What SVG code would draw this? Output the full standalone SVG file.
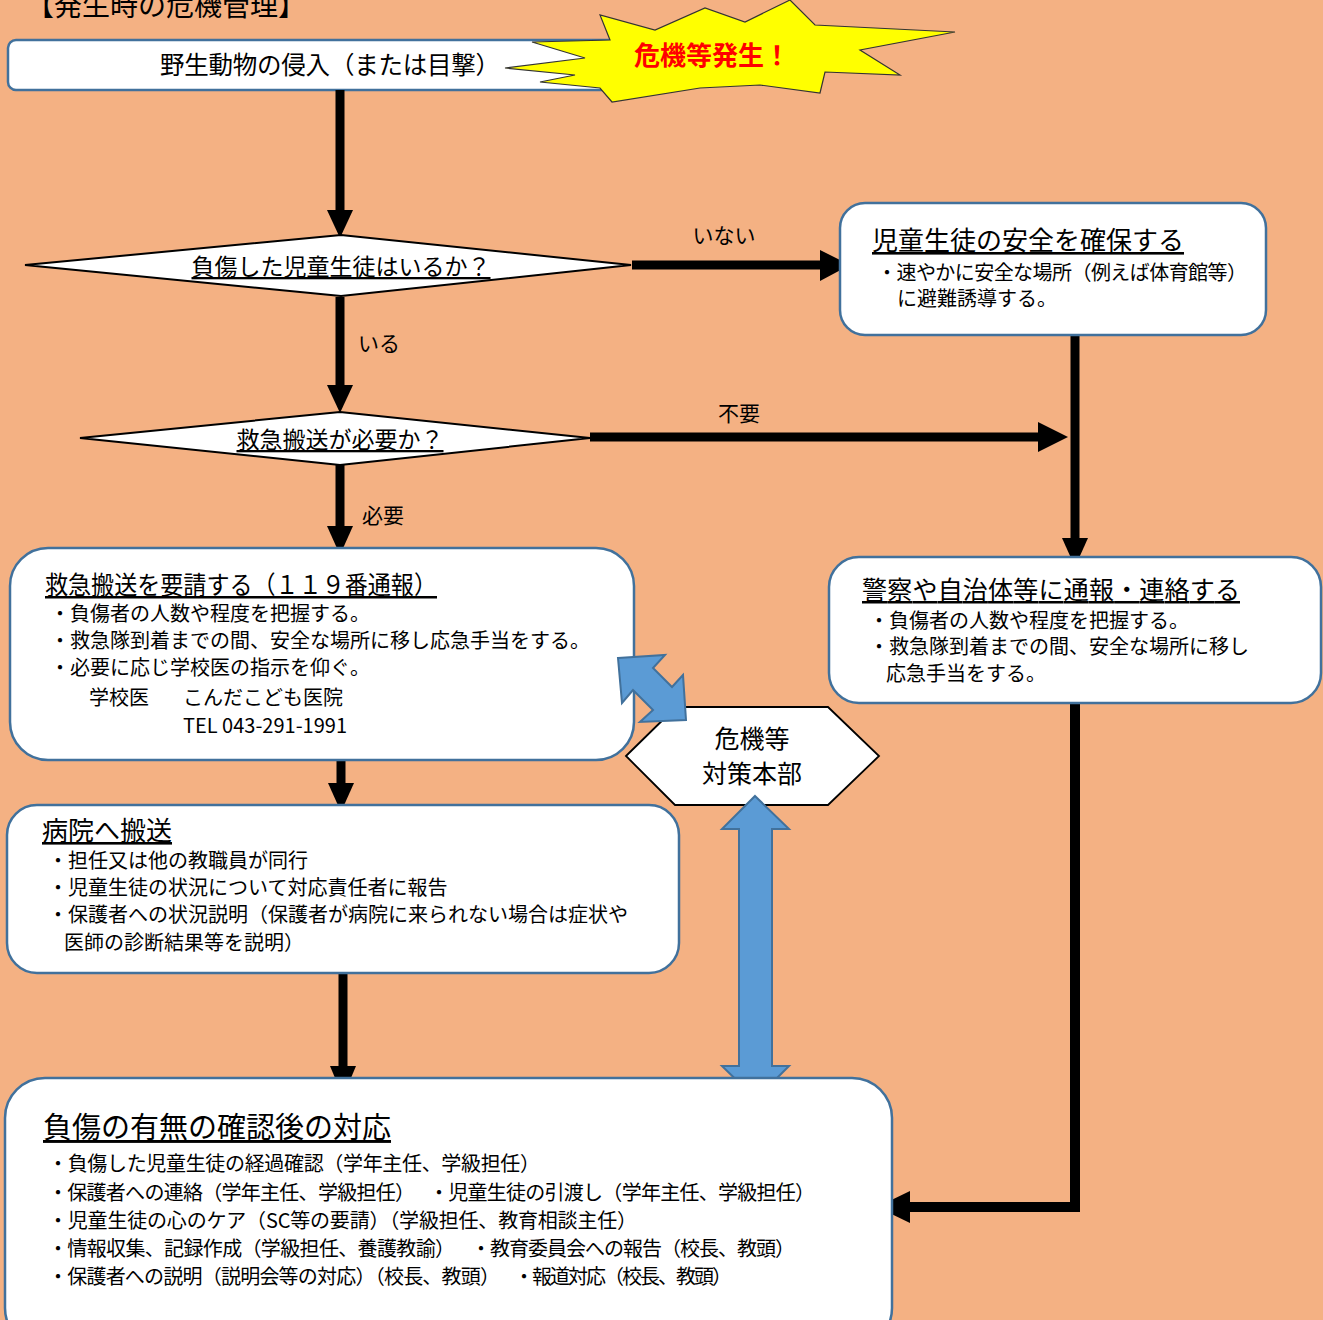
<svg xmlns="http://www.w3.org/2000/svg" width="1323" height="1320" viewBox="0 0 1323 1320">
<style>
text{font-family:"Noto Sans CJK JP","Noto Sans",sans-serif;fill:#000}
.box{fill:#fff;stroke:#41719C;stroke-width:2.5}
.dia{fill:#fff;stroke:#000;stroke-width:2}
.ln{fill:none;stroke:#000;stroke-width:9;stroke-linejoin:miter}
.hd{fill:#000}
.blue{fill:#5B9BD5;stroke:#41719C;stroke-width:2}
.t{font-size:25px;text-decoration:underline}
.b{font-size:20px}
.lb{font-size:21px}
</style>
<rect width="1323" height="1320" fill="#F4B183"/>
<text x="26" y="16" font-size="28">【発生時の危機管理】</text>

<g id="start">
<rect class="box" x="8" y="40" width="652" height="50" rx="8"/>
<text x="160" y="74" font-size="24.5" textLength="340">野生動物の侵入（または目撃）</text>
</g>

<g id="burst">
<polygon points="505,68 585,58 532,42 610,40 600,15 655,30 705,8 745,22 790,0 815,25 955,32 860,50 900,75 825,72 820,93 760,85 700,88 612,102 600,88 540,82 575,75" fill="#FFFF00" stroke="#333" stroke-width="1.2"/>
<text x="712" y="65" font-size="26" font-weight="bold" text-anchor="middle" style="fill:#FF0000">危機等発生！</text>
</g>

<g id="connectors">
<path class="ln" d="M340,90 V212"/>
<polygon class="hd" points="327,210 353,210 340,238"/>
<path class="ln" d="M632,265 H822"/>
<polygon class="hd" points="820,250 820,281 850,265"/>
<path class="ln" d="M340,297 V388"/>
<polygon class="hd" points="327,385 353,385 340,413"/>
<path class="ln" d="M590,437 H1040"/>
<polygon class="hd" points="1038,422 1038,452 1068,437"/>
<path class="ln" d="M1075,335 V540"/>
<polygon class="hd" points="1062,538 1088,538 1075,567"/>
<path class="ln" d="M340,465 V528"/>
<polygon class="hd" points="327,526 353,526 340,555"/>
<path class="ln" d="M341,760 V785"/>
<polygon class="hd" points="328,783 354,783 341,812"/>
<path class="ln" d="M343,973 V1068"/>
<polygon class="hd" points="330,1066 356,1066 343,1097"/>
<path class="ln" d="M1075,703 V1207 H908" style="stroke-width:10"/>
<polygon class="hd" points="910,1191 910,1223 877,1207"/>
<text class="lb" x="724" y="243" text-anchor="middle">いない</text>
<text class="lb" x="358" y="351">いる</text>
<text class="lb" x="718" y="421">不要</text>
<text class="lb" x="362" y="523">必要</text>
</g>

<g id="q1">
<polygon class="dia" points="25,265 341,235 631,265 341,296"/>
<text x="341" y="275" font-size="23" text-anchor="middle" text-decoration="underline">負傷した児童生徒はいるか？</text>
</g>

<g id="q2">
<polygon class="dia" points="80,438 340,412 590,438 340,465"/>
<text x="340" y="448" font-size="23" text-anchor="middle" text-decoration="underline">救急搬送が必要か？</text>
</g>

<g id="safety">
<rect class="box" x="840" y="203" width="426" height="132" rx="25"/>
<text class="t" x="872" y="250" style="font-size:26px">児童生徒の安全を確保する</text>
<text class="b" x="877" y="280" textLength="370">・速やかに安全な場所（例えば体育館等）</text>
<text class="b" x="897" y="306">に避難誘導する。</text>
</g>

<g id="ambulance">
<rect class="box" x="10" y="548" width="624" height="212" rx="38"/>
<text class="t" x="45" y="594" textLength="392" lengthAdjust="spacingAndGlyphs">救急搬送を要請する（１１９番通報）</text>
<text class="b" x="50" y="621">・負傷者の人数や程度を把握する。</text>
<text class="b" x="50" y="648">・救急隊到着までの間、安全な場所に移し応急手当をする。</text>
<text class="b" x="50" y="675">・必要に応じ学校医の指示を仰ぐ。</text>
<text class="b" x="89" y="705">学校医<tspan x="183">こんだこども医院</tspan></text>
<text class="b" x="183" y="733">TEL 043-291-1991</text>
</g>

<g id="police">
<rect class="box" x="829" y="557" width="492" height="146" rx="30"/>
<text class="t" x="862" y="599" textLength="378">警察や自治体等に通報・連絡する</text>
<text class="b" x="869" y="628">・負傷者の人数や程度を把握する。</text>
<text class="b" x="869" y="654">・救急隊到着までの間、安全な場所に移し</text>
<text class="b" x="886" y="681">応急手当をする。</text>
</g>

<g id="hq">
<polygon points="626,756 676,707 828,707 879,756 828,805 675,805" fill="#fff" stroke="#000" stroke-width="1.8"/>
<text x="752" y="748" font-size="25" text-anchor="middle">危機等</text>
<text x="752" y="783" font-size="25" text-anchor="middle">対策本部</text>
</g>

<g id="links">
<polygon class="blue" points="618,658 665,655 653,668 672,687 683,675 686,720 640,722 653,710 633,690 622,703"/>
<polygon class="blue" points="755,796 789,829 772,829 772,1066 789,1066 756,1099 722,1066 739,1066 739,829 722,829"/>
</g>

<g id="hospital">
<rect class="box" x="7" y="805" width="672" height="168" rx="30"/>
<text class="t" x="42" y="840" style="font-size:26px">病院へ搬送</text>
<text class="b" x="48" y="868">・担任又は他の教職員が同行</text>
<text class="b" x="48" y="895">・児童生徒の状況について対応責任者に報告</text>
<text class="b" x="48" y="922">・保護者への状況説明（保護者が病院に来られない場合は症状や</text>
<text class="b" x="64" y="950">医師の診断結果等を説明）</text>
</g>

<g id="after">
<rect class="box" x="5" y="1078" width="887" height="270" rx="40"/>
<text x="43" y="1138" font-size="29" text-decoration="underline">負傷の有無の確認後の対応</text>
<text class="b" x="48" y="1171" textLength="492">・負傷した児童生徒の経過確認（学年主任、学級担任）</text>
<text class="b" x="48" y="1200" textLength="367">・保護者への連絡（学年主任、学級担任）</text>
<text class="b" x="429" y="1200" textLength="386">・児童生徒の引渡し（学年主任、学級担任）</text>
<text class="b" x="48" y="1228" textLength="589">・児童生徒の心のケア（SC等の要請）（学級担任、教育相談主任）</text>
<text class="b" x="48" y="1256" textLength="407">・情報収集、記録作成（学級担任、養護教諭）</text>
<text class="b" x="471" y="1256" textLength="324">・教育委員会への報告（校長、教頭）</text>
<text class="b" x="48" y="1284" textLength="452">・保護者への説明（説明会等の対応）（校長、教頭）</text>
<text class="b" x="514" y="1284" textLength="218">・報道対応（校長、教頭）</text>
</g>
</svg>
